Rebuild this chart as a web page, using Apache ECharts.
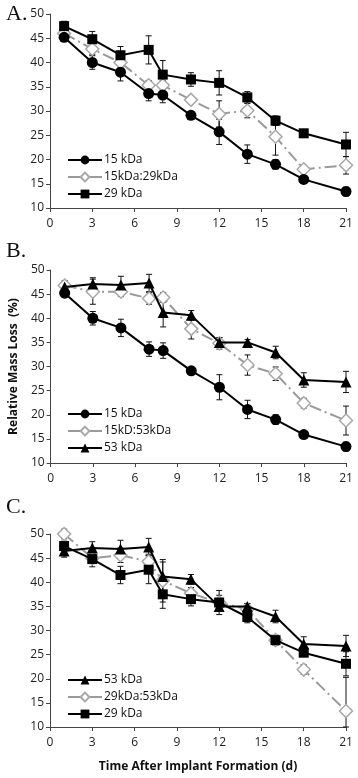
<!DOCTYPE html>
<html>
<head>
<meta charset="utf-8">
<script src="https://cdn.jsdelivr.net/npm/echarts@6/dist/echarts.min.js"></script>
<style>
  html, body { margin: 0; padding: 0; background: #fff; }
  #main { width: 358px; height: 778px; }
</style>
</head>
<body>
<div id="main"></div>
<script>
// days sampled
const days = [1, 3, 5, 7, 8, 10, 12, 14, 16, 18, 21];

// mean relative mass loss (%) and error bars
const kDa15 = [45.2, 40.0, 38.0, 33.6, 33.3, 29.1, 25.7, 21.1, 19.0, 15.9, 13.4];
const kDa15Err = [0.9, 1.4, 1.8, 1.5, 1.6, 0.5, 2.6, 1.9, 1.0, 0.5, 0.9];
const kDa29 = [47.5, 44.8, 41.5, 42.6, 37.5, 36.5, 35.8, 32.8, 28.0, 25.4, 23.1];
const kDa29Err = [1.0, 1.6, 1.8, 2.9, 2.9, 1.4, 2.5, 1.2, 1.0, 0.6, 2.5];
const kDa53 = [46.5, 47.1, 46.9, 47.3, 41.2, 40.6, 35.0, 35.0, 32.9, 27.2, 26.8];
const kDa53Err = [1.3, 1.3, 1.8, 1.8, 3.0, 1.0, 1.0, 0.6, 1.3, 1.5, 2.2];
const mix15_29 = [46.0, 42.8, 40.0, 35.3, 35.3, 32.3, 29.4, 30.1, 24.7, 18.0, 18.8];
const mix15_29Err = [0.8, 1.2, 1.0, 1.0, 1.0, 0.8, 2.7, 1.5, 3.8, 0.8, 1.8];
const mix15_53 = [46.8, 45.5, 45.5, 44.1, 44.3, 37.8, 34.8, 30.3, 28.5, 22.4, 18.8];
const mix15_53Err = [0.8, 2.6, 1.0, 1.2, 1.0, 2.1, 1.2, 2.1, 1.4, 1.0, 3.0];
const mix29_53 = [50.0, 45.0, 45.6, 44.3, 40.3, 37.7, 35.8, 34.4, 28.0, 21.9, 13.3];
const mix29_53Err = [1.0, 1.0, 1.5, 1.5, 4.4, 1.2, 1.5, 1.2, 1.0, 1.0, 7.0];

const xTicks = { min: 0, max: 21, interval: 3 };
const yTicks = { min: 10, max: 50, interval: 5 };

const FONT = 'Open Sans';
const chart = echarts.init(document.getElementById('main'));

const panels = [
  { top: 14, height: 194, legendTop: 149, series: [
    ['15 kDa', kDa15, kDa15Err, 'circle'],
    ['15kDa:29kDa', mix15_29, mix15_29Err, 'mix'],
    ['29 kDa', kDa29, kDa29Err, 'rect']] },
  { top: 270, height: 193, legendTop: 403, series: [
    ['15 kDa', kDa15, kDa15Err, 'circle'],
    ['15kD:53kDa', mix15_53, mix15_53Err, 'mix'],
    ['53 kDa', kDa53, kDa53Err, 'triangle']] },
  { top: 534, height: 193, legendTop: 669, series: [
    ['53 kDa', kDa53, kDa53Err, 'triangle'],
    ['29kDa:53kDa', mix29_53, mix29_53Err, 'mix'],
    ['29 kDa', kDa29, kDa29Err, 'rect']] }
];

function errRender(params, api) {
  const x = api.value(0);
  const lo = Math.max(api.value(1), yTicks.min);
  const hi = api.value(2);
  const p1 = api.coord([x, hi]);
  const p2 = api.coord([x, lo]);
  const w = 3;
  const st = { stroke: '#111', lineWidth: 1 };
  return {
    type: 'group',
    children: [
      { type: 'line', shape: { x1: p1[0], y1: p1[1], x2: p2[0], y2: p2[1] }, style: st },
      { type: 'line', shape: { x1: p1[0] - w, y1: p1[1], x2: p1[0] + w, y2: p1[1] }, style: st },
      { type: 'line', shape: { x1: p2[0] - w, y1: p2[1], x2: p2[0] + w, y2: p2[1] }, style: st }
    ]
  };
}

const grid = [], xAxis = [], yAxis = [], legend = [], series = [];
panels.forEach((p, i) => {
  grid.push({ left: 50, right: 12, top: p.top, height: p.height });
  xAxis.push({
    type: 'value', gridIndex: i, min: xTicks.min, max: xTicks.max, interval: xTicks.interval,
    splitLine: { show: false },
    axisLine: { onZero: false, lineStyle: { color: '#444', width: 1 } },
    axisTick: { show: true, length: 4, lineStyle: { color: '#444' } },
    axisLabel: { color: '#222', fontSize: 12, fontFamily: FONT, margin: 10 },
    name: i === 2 ? 'Time After Implant Formation (d)' : '',
    nameLocation: 'middle', nameGap: 34,
    nameTextStyle: { color: '#111', fontSize: 12, fontWeight: 'bold', fontFamily: FONT }
  });
  yAxis.push({
    type: 'value', gridIndex: i, min: yTicks.min, max: yTicks.max, interval: yTicks.interval,
    splitLine: { show: false },
    axisLine: { show: true, lineStyle: { color: '#444', width: 1 } },
    axisTick: { show: true, length: 4, lineStyle: { color: '#444' } },
    axisLabel: { color: '#222', fontSize: 12, fontFamily: FONT, margin: 6 },
    name: i === 1 ? 'Relative Mass Loss  (%)' : '',
    nameLocation: 'middle', nameGap: 29, nameRotate: 90,
    nameTextStyle: { color: '#111', fontSize: 12, fontWeight: 'bold', fontFamily: FONT }
  });
  legend.push({
    orient: 'vertical', left: 62, top: p.legendTop,
    itemWidth: 34, itemHeight: 11, itemGap: 5,
    textStyle: { fontSize: 12, fontFamily: FONT, color: '#111', padding: [0, 0, 0, -3] },
    data: p.series.map(s => s[0])
  });
  p.series.forEach(s => {
    const [name, vals, errs, sym] = s;
    series.push({
      type: 'custom', name: name + ' err', xAxisIndex: i, yAxisIndex: i, z: 1,
      renderItem: errRender, silent: true,
      data: days.map((d, k) => [d, vals[k] - errs[k], vals[k] + errs[k]]),
      encode: { x: 0, y: [1, 2] }
    });
    const mix = sym === 'mix';
    series.push({
      type: 'line', name: name, xAxisIndex: i, yAxisIndex: i, z: mix ? 3 : 4,
      data: days.map((d, k) => [d, vals[k]]),
      symbol: mix ? 'diamond' : sym,
      symbolSize: mix ? 13 : (sym === 'rect' ? 10 : 11),
      lineStyle: mix ? { color: '#9a9a9a', width: 2, type: [12, 4, 2, 4] } : { color: '#000', width: 2 },
      itemStyle: mix ? { color: '#fff', borderColor: '#a8a8a8', borderWidth: 1.5 } : { color: '#000' },
      animation: false
    });
  });
});

chart.setOption({
  animation: false,
  grid, xAxis, yAxis, legend, series,
  graphic: [
    { type: 'text', left: 6, top: 3, style: { text: 'A.', font: '22px "Liberation Serif"', fill: '#111' } },
    { type: 'text', left: 6, top: 240, style: { text: 'B.', font: '22px "Liberation Serif"', fill: '#111' } },
    { type: 'text', left: 6, top: 496, style: { text: 'C.', font: '22px "Liberation Serif"', fill: '#111' } }
  ]
});
</script>
</body>
</html>
